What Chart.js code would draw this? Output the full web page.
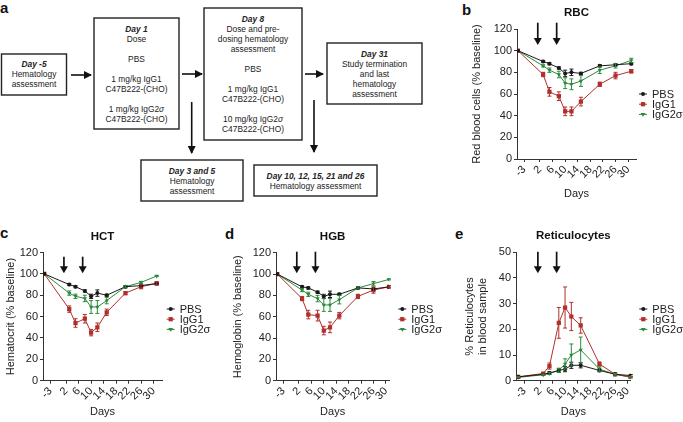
<!DOCTYPE html>
<html>
<head>
<meta charset="utf-8">
<script src="https://cdn.jsdelivr.net/npm/chart.js@4.4.0/dist/chart.umd.min.js"></script>
<style>
  body { margin: 0; width: 683px; height: 422px; position: relative; overflow: hidden; background: #fff; font-family: "Liberation Sans", Arial, sans-serif; }
  .panel { position: absolute; }
  #flow { position: absolute; left: 0; top: 0; }
  #flow text { font-family: "Liberation Sans", Arial, sans-serif; fill: #222; }
  #flow .t { font-size: 8.4px; text-anchor: middle; dominant-baseline: central; }
  #flow .b { font-weight: bold; font-style: italic; }
  #flow .lbl { font-size: 15px; font-weight: bold; fill: #111; }
</style>
</head>
<body>

<svg id="flow" width="683" height="422">
  <defs>
    <marker id="ah" markerWidth="8" markerHeight="8" refX="7" refY="4" orient="auto" markerUnits="userSpaceOnUse">
      <path d="M0,0 L8,4 L0,8 Z" fill="#111"/>
    </marker>
  </defs>
  <text class="lbl" x="0" y="13">a</text>
  <text class="lbl" x="462" y="15">b</text>
  <text class="lbl" x="0" y="237.5">c</text>
  <text class="lbl" x="225" y="239">d</text>
  <text class="lbl" x="455" y="239">e</text>

  <g fill="none" stroke="#222" stroke-width="1.4">
    <rect x="1.5" y="54" width="65" height="41"/>
    <rect x="94" y="18" width="85" height="111"/>
    <rect x="204" y="8" width="98" height="132"/>
    <rect x="327" y="43" width="95" height="61"/>
    <rect x="141" y="160" width="102" height="41"/>
    <rect x="254" y="165" width="123" height="31"/>
  </g>
  <g stroke="#111" stroke-width="1.6" marker-end="url(#ah)">
    <line x1="71" y1="75" x2="91" y2="75"/>
    <line x1="182" y1="74" x2="202" y2="74"/>
    <line x1="305" y1="74" x2="323" y2="74"/>
    <line x1="191.7" y1="102" x2="191.7" y2="153"/>
    <line x1="314" y1="100" x2="314" y2="152"/>
  </g>

  <text class="t b" x="34" y="64">Day -5</text>
  <text class="t" x="34" y="74">Hematology</text>
  <text class="t" x="34" y="84">assessment</text>

  <text class="t b" x="136.5" y="29">Day 1</text>
  <text class="t" x="136.5" y="39">Dose</text>
  <text class="t" x="136.5" y="59">PBS</text>
  <text class="t" x="136.5" y="79">1 mg/kg IgG1</text>
  <text class="t" x="136.5" y="89">C47B222-(CHO)</text>
  <text class="t" x="136.5" y="109">1 mg/kg IgG2<tspan font-style="italic">σ</tspan></text>
  <text class="t" x="136.5" y="119">C47B222-(CHO)</text>

  <text class="t b" x="253" y="19">Day 8</text>
  <text class="t" x="253" y="29">Dose and pre-</text>
  <text class="t" x="253" y="39">dosing hematology</text>
  <text class="t" x="253" y="49">assessment</text>
  <text class="t" x="253" y="69">PBS</text>
  <text class="t" x="253" y="89">1 mg/kg IgG1</text>
  <text class="t" x="253" y="99">C47B222-(CHO)</text>
  <text class="t" x="253" y="119">10 mg/kg IgG2<tspan font-style="italic">σ</tspan></text>
  <text class="t" x="253" y="129">C47B222-(CHO)</text>

  <text class="t b" x="374.5" y="54">Day 31</text>
  <text class="t" x="374.5" y="64">Study termination</text>
  <text class="t" x="374.5" y="74">and last</text>
  <text class="t" x="374.5" y="84">hematology</text>
  <text class="t" x="374.5" y="94">assessment</text>

  <text class="t b" x="192" y="171">Day 3 and 5</text>
  <text class="t" x="192" y="181">Hematology</text>
  <text class="t" x="192" y="191">assessment</text>

  <text class="t b" x="315.5" y="175.7">Day 10, 12, 15, 21 and 26</text>
  <text class="t" x="315.5" y="185.7">Hematology assessment</text>
</svg>

<div class="panel" style="left:460px;top:0;width:223px;height:204px"><canvas id="rbc"></canvas></div>
<div class="panel" style="left:0;top:230px;width:225px;height:192px"><canvas id="hct"></canvas></div>
<div class="panel" style="left:225px;top:230px;width:230px;height:192px"><canvas id="hgb"></canvas></div>
<div class="panel" style="left:455px;top:230px;width:228px;height:192px"><canvas id="retic"></canvas></div>

<script>
// sampling days and axis labels
const days = [-5, 3, 5, 8, 10, 12, 15, 21, 26, 31];
const xTicks = [-3, 2, 6, 10, 14, 18, 22, 26, 30];
const doseArrowDays = [1.3, 7.3];
const groupNames = ['PBS', 'IgG1', 'IgG2σ'];

// b - RBC (% baseline)
const rbcPBS     = [100, 90, 88, 84, 79, 80, 79, 86, 87, 88];
const rbcPBSErr  = [0, 1, 1, 1, 3, 3, 1, 1, 1, 1];
const rbcIgG1    = [100, 78, 62, 58, 44, 44, 53, 69, 77, 81];
const rbcIgG1Err = [0, 2, 4, 4, 4, 4, 4, 2, 3, 1.5];
const rbcIgG2    = [100, 86, 82, 78, 70, 69, 72, 82, 86, 91];
const rbcIgG2Err = [0, 1, 2, 3, 5, 5, 5, 3, 2, 2];

// c - HCT (% baseline)
const hctPBS     = [100, 90, 88, 84, 79, 82, 80, 88, 89, 91];
const hctPBSErr  = [0, 1, 1, 1, 2, 3, 1, 1, 1, 1];
const hctIgG1    = [100, 67, 54, 58, 45, 50, 64, 82, 88, 91];
const hctIgG1Err = [0, 3, 4, 4, 3, 4, 3, 1.5, 2, 1.5];
const hctIgG2    = [100, 82, 79, 77, 69, 69, 75, 88, 92, 98];
const hctIgG2Err = [0, 2, 2, 3, 6, 6, 3, 1, 1, 0.5];

// d - HGB (% baseline)
const hgbPBS     = [100, 88, 87, 83, 79, 81, 81, 87, 86, 88];
const hgbPBSErr  = [0, 1, 1, 1, 2, 3, 1, 1, 1, 1];
const hgbIgG1    = [100, 77, 62, 61, 47, 50, 61, 79, 85, 88];
const hgbIgG1Err = [0, 2, 4, 5, 4, 5, 3, 2, 3, 1];
const hgbIgG2    = [100, 85, 81, 77, 71, 71, 76, 87, 91, 95];
const hgbIgG2Err = [0, 1.5, 2, 3, 6, 6, 4, 1, 2, 0.5];

// e - reticulocytes (%)
const retPBS     = [1.5, 2.5, 3, 4, 4.5, 6, 6, 4, 2.5, 2];
const retPBSErr  = [0.3, 0.3, 0.5, 0.8, 1, 1.2, 1, 0.5, 0.4, 0.4];
const retIgG1    = [1.5, 2.8, 5.7, 22.5, 28.5, 25, 21.5, 6.5, 2.5, 1.5];
const retIgG1Err = [0.2, 0.3, 1.2, 6, 8, 5.5, 3, 0.8, 0.3, 0.3];
const retIgG2    = [1.3, 2.3, 2.8, 4, 6.5, 10, 12, 4.5, 2.5, 1.3];
const retIgG2Err = [0.2, 0.2, 0.4, 0.8, 2, 4.3, 5, 0.8, 0.3, 0.3];

const colors = ['#1a1a1a', '#b0302b', '#2b8a3c'];
const markers = ['circle', 'rect', 'triangle'];
const markerSize = [2, 3, 2.4];
const textColor = '#222';
const axisColor = '#333';

Chart.defaults.font.family = '"Liberation Sans", Arial, sans-serif';
Chart.defaults.font.size = 11;
Chart.defaults.color = textColor;

function drawMarker(ctx, k, x, y) {
  const r = markerSize[k];
  ctx.beginPath();
  if (k === 0) {
    ctx.arc(x, y, r, 0, Math.PI * 2);
  } else if (k === 1) {
    const s = r * Math.SQRT1_2;
    ctx.rect(x - s, y - s, 2 * s, 2 * s);
  } else {
    ctx.moveTo(x - r, y - r * 0.6);
    ctx.lineTo(x + r, y - r * 0.6);
    ctx.lineTo(x, y + r);
    ctx.closePath();
  }
  ctx.fill();
}

function makePanel(p) {
  const series = [p.pbs, p.igg1, p.igg2];
  const errs = [p.pbsErr, p.igg1Err, p.igg2Err];

  const deco = {
    id: 'deco' + p.id,
    afterDatasetsDraw(chart) {
      const {ctx, chartArea, scales} = chart;
      ctx.save();
      // error bars
      chart.data.datasets.forEach((ds, k) => {
        const meta = chart.getDatasetMeta(k);
        ctx.strokeStyle = colors[k];
        ctx.lineWidth = 1;
        ds.errors.forEach((e, i) => {
          if (!e) return;
          const pt = meta.data[i];
          const v = series[k][i];
          const y1 = scales.y.getPixelForValue(v - e);
          const y2 = scales.y.getPixelForValue(v + e);
          ctx.beginPath();
          ctx.moveTo(pt.x, y1); ctx.lineTo(pt.x, y2);
          ctx.moveTo(pt.x - 2, y1); ctx.lineTo(pt.x + 2, y1);
          ctx.moveTo(pt.x - 2, y2); ctx.lineTo(pt.x + 2, y2);
          ctx.stroke();
        });
      });
      // dosing arrows
      ctx.strokeStyle = '#111';
      ctx.fillStyle = '#111';
      ctx.lineWidth = 1.7;
      doseArrowDays.forEach(d => {
        const x = scales.x.getPixelForValue(d);
        const y0 = chartArea.top + p.arrow[0];
        const y1 = chartArea.top + p.arrow[1];
        ctx.beginPath();
        ctx.moveTo(x, y0); ctx.lineTo(x, y1 - 6);
        ctx.stroke();
        ctx.beginPath();
        ctx.moveTo(x - 4, y1 - 7); ctx.lineTo(x + 4, y1 - 7); ctx.lineTo(x, y1);
        ctx.closePath();
        ctx.fill();
      });
      // title
      ctx.fillStyle = '#111';
      ctx.font = 'bold 11.5px "Liberation Sans", Arial, sans-serif';
      ctx.textAlign = 'center';
      ctx.textBaseline = 'middle';
      ctx.fillText(p.title, (chartArea.left + chartArea.right) / 2, p.titleY);
      // legend
      ctx.font = '11px "Liberation Sans", Arial, sans-serif';
      ctx.textAlign = 'left';
      groupNames.forEach((name, k) => {
        const y = p.legend[1] + k * 10.2;
        const x = p.legend[0];
        ctx.strokeStyle = colors[k];
        ctx.fillStyle = colors[k];
        ctx.lineWidth = 1;
        ctx.beginPath();
        ctx.moveTo(x, y); ctx.lineTo(x + 8, y);
        ctx.stroke();
        drawMarker(ctx, k, x + 4, y);
        ctx.fillStyle = textColor;
        ctx.fillText(name, x + 13, y + 0.5);
      });
      ctx.restore();
    }
  };

  return new Chart(document.getElementById(p.id), {
    type: 'line',
    data: {
      datasets: series.map((vals, k) => ({
        label: groupNames[k],
        data: days.map((d, i) => ({x: d, y: vals[i]})),
        errors: errs[k],
        borderColor: colors[k],
        backgroundColor: colors[k],
        borderWidth: 1,
        pointStyle: markers[k],
        pointRadius: markerSize[k],
        pointRotation: k === 2 ? 180 : 0,
        pointBorderWidth: 0,
        pointBackgroundColor: colors[k],
        tension: 0
      }))
    },
    options: {
      responsive: true,
      maintainAspectRatio: false,
      animation: false,
      layout: {padding: {top: p.padTop, right: p.padRight, left: 0, bottom: 0}},
      plugins: {legend: {display: false}, title: {display: false}, tooltip: {enabled: false}},
      scales: {
        x: {
          type: 'linear',
          min: p.xMin,
          max: p.xMax,
          afterBuildTicks: s => { s.ticks = xTicks.map(v => ({value: v})); },
          afterFit: s => { s.height = p.xHeight; },
          grid: {drawOnChartArea: false, drawTicks: true, tickLength: 3, color: axisColor},
          border: {color: axisColor, width: 1},
          ticks: {minRotation: 45, maxRotation: 45, autoSkip: false, padding: 1, color: textColor},
          title: {display: true, text: 'Days', color: textColor, padding: {top: 0, bottom: 3}}
        },
        y: {
          min: 0,
          max: p.yMax,
          afterFit: s => { s.width = p.yWidth; },
          grid: {drawOnChartArea: false, drawTicks: true, tickLength: 3, color: axisColor},
          border: {color: axisColor, width: 1},
          ticks: {stepSize: p.yStep, padding: 2, color: textColor},
          title: {display: true, text: p.yTitle, color: textColor, padding: {top: p.yTitlePad, bottom: 0}}
        }
      }
    },
    plugins: [deco]
  });
}

makePanel({
  id: 'rbc', title: 'RBC', yTitle: 'Red blood cells (% baseline)',
  pbs: rbcPBS, pbsErr: rbcPBSErr, igg1: rbcIgG1, igg1Err: rbcIgG1Err, igg2: rbcIgG2, igg2Err: rbcIgG2Err,
  yMax: 120, yStep: 20, xMin: -5.3, xMax: 32.5,
  yWidth: 57, xHeight: 45, padTop: 29, padRight: 47, yTitlePad: 10,
  titleY: 12.7, legend: [179, 94], arrow: [-6.3, 16]
});

makePanel({
  id: 'hct', title: 'HCT', yTitle: 'Hematocrit (% baseline)',
  pbs: hctPBS, pbsErr: hctPBSErr, igg1: hctIgG1, igg1Err: hctIgG1Err, igg2: hctIgG2, igg2Err: hctIgG2Err,
  yMax: 120, yStep: 20, xMin: -5.4, xMax: 32.7,
  yWidth: 43, xHeight: 41.3, padTop: 22.5, padRight: 63, yTitlePad: 4,
  titleY: 6.7, legend: [166.7, 79], arrow: [4.2, 20.8]
});

makePanel({
  id: 'hgb', title: 'HGB', yTitle: 'Hemoglobin (% baseline)',
  pbs: hgbPBS, pbsErr: hgbPBSErr, igg1: hgbIgG1, igg1Err: hgbIgG1Err, igg2: hgbIgG2, igg2Err: hgbIgG2Err,
  yMax: 120, yStep: 20, xMin: -5.4, xMax: 31.1,
  yWidth: 51, xHeight: 41.3, padTop: 22.7, padRight: 65.7, yTitlePad: 6.7,
  titleY: 6.7, legend: [173.3, 79], arrow: [-1, 20.6]
});

makePanel({
  id: 'retic', title: 'Reticulocytes', yTitle: ['% Reticulocytes', 'in blood sample'],
  pbs: retPBS, pbsErr: retPBSErr, igg1: retIgG1, igg1Err: retIgG1Err, igg2: retIgG2, igg2Err: retIgG2Err,
  yMax: 50, yStep: 10, xMin: -5.7, xMax: 31,
  yWidth: 61, xHeight: 41.3, padTop: 22.3, padRight: 52.3, yTitlePad: 8.4,
  titleY: 6, legend: [184.3, 79], arrow: [-0.6, 21]
});
</script>
</body>
</html>
